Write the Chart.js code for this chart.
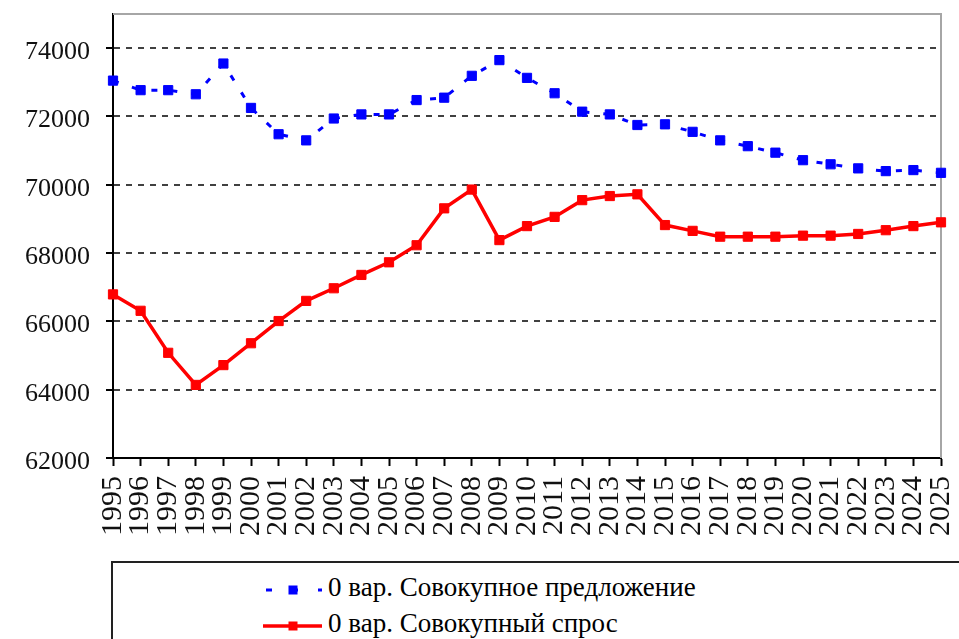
<!DOCTYPE html>
<html>
<head>
<meta charset="utf-8">
<script src="https://cdn.jsdelivr.net/npm/chart.js@4.4.1/dist/chart.umd.min.js"></script>
<style>
    html, body { margin: 0; padding: 0; background: #fff; overflow: hidden; }
    #wrap { position: relative; width: 959px; height: 639px; }
    #legend {
        position: absolute; left: 111px; top: 561px; width: 900px; height: 100px;
        border: 2px solid #222; background: #fff;
        font-family: 'Liberation Serif', serif; font-size: 27px; color: #000;
    }
    .item { position: absolute; left: 150px; height: 34px; line-height: 34px; white-space: nowrap; }
    .item svg { vertical-align: middle; margin-right: 6px; }
</style>
</head>
<body>
<div id="wrap">
    <canvas id="chart" width="959" height="639"></canvas>
    <div id="legend"></div>
</div>
<script>
let years = ['1995', '1996', '1997', '1998', '1999', '2000', '2001', '2002', '2003', '2004',
    '2005', '2006', '2007', '2008', '2009', '2010', '2011', '2012', '2013', '2014',
    '2015', '2016', '2017', '2018', '2019', '2020', '2021', '2022', '2023', '2024', '2025']

// 0 вар. Совокупное предложение
let supply = [73050, 72770, 72770, 72650, 73550, 72250, 71480, 71300, 71940, 72060,
    72060, 72480, 72550, 73190, 73650, 73130, 72680, 72140, 72060, 71750,
    71770, 71550, 71300, 71130, 70940, 70720, 70600, 70480, 70400, 70430, 70350]

// 0 вар. Совокупный спрос
let demand = [66790, 66310, 65080, 64140, 64720, 65360, 66010, 66600, 66970, 67360,
    67730, 68230, 69310, 69860, 68380, 68790, 69060, 69550, 69670, 69720,
    68820, 68650, 68480, 68480, 68480, 68510, 68510, 68560, 68670, 68790, 68900]

let yTicks = [62000, 64000, 66000, 68000, 70000, 72000, 74000]
let yMin = 62000,
    yMax = 75000

let serif = "'Liberation Serif', serif"

// grey frame on top and right of plot area
const plotBorder = {
    id: 'plotBorder',
    beforeDatasetsDraw(chart) {
        let ctx = chart.ctx
        let a = chart.chartArea
        ctx.save()
        ctx.strokeStyle = '#a6a6a6'
        ctx.lineWidth = 2
        ctx.beginPath()
        ctx.moveTo(a.left, a.top)
        ctx.lineTo(a.right, a.top)
        ctx.lineTo(a.right, a.bottom)
        ctx.stroke()
        ctx.restore()
    }
}

let chart = new Chart(document.getElementById('chart'), {
    type: 'line',
    data: {
        labels: years,
        datasets: [{
            label: '0 вар. Совокупное предложение',
            data: supply,
            borderColor: '#0000ff',
            backgroundColor: '#0000ff',
            borderWidth: 3,
            borderDash: [6, 14],
            pointStyle: 'rect',
            pointRadius: 6.5,
            pointBorderWidth: 1,
            tension: 0
        }, {
            label: '0 вар. Совокупный спрос',
            data: demand,
            borderColor: '#ff0000',
            backgroundColor: '#ff0000',
            borderWidth: 3.5,
            pointStyle: 'rect',
            pointRadius: 6.5,
            pointBorderWidth: 1,
            tension: 0
        }]
    },
    options: {
        responsive: false,
        animation: false,
        layout: {
            padding: { top: 14, right: 18, bottom: 81, left: 0 }
        },
        plugins: {
            legend: { display: false },
            tooltip: { enabled: false }
        },
        scales: {
            x: {
                grid: { drawOnChartArea: false, tickLength: 8, tickColor: '#000', tickWidth: 2 },
                border: { color: '#000', width: 2 },
                ticks: {
                    autoSkip: false,
                    maxRotation: 90,
                    minRotation: 90,
                    padding: 10,
                    color: '#111',
                    font: { family: serif, size: 30 }
                },
                afterFit: function(s) {
                    s.height = 100
                    s.paddingLeft = 0
                    s.paddingRight = 0
                }
            },
            y: {
                min: yMin,
                max: yMax,
                afterBuildTicks: function(s) {
                    s.ticks = yTicks.map(v => ({ value: v }))
                },
                grid: {
                    color: '#404040',
                    lineWidth: 2,
                    tickLength: 7,
                    tickColor: '#000',
                    tickWidth: 2,
                    tickBorderDash: [1, 0]
                },
                border: { color: '#000', width: 2, dash: [6, 6] },
                ticks: {
                    padding: 16,
                    labelOffset: 4,
                    color: '#111',
                    font: { family: serif, size: 26 },
                    callback: function(v) { return v }
                },
                afterFit: function(s) {
                    s.width = 113
                    s.paddingTop = 0
                    s.paddingBottom = 0
                }
            }
        }
    },
    plugins: [plotBorder]
})

// legend below the chart, taken from the datasets
let append = ''
chart.data.datasets.forEach(function(ds, i) {
    let top = 7 + i * 36
    let dash = ds.borderDash ? `stroke-dasharray="6 20"` : ''
    let x1 = ds.borderDash ? 3 : 0
    append += `
        <div class="item" style="top:${top}px">
            <svg width="59" height="20" viewBox="0 0 59 20">
                <line x1="${x1}" y1="10" x2="59" y2="10" stroke="${ds.borderColor}" stroke-width="${ds.borderWidth}" ${dash}/>
                <rect x="25.5" y="5.5" width="9" height="9" fill="${ds.backgroundColor}"/>
            </svg>${ds.label}
        </div>
    `
})
document.getElementById('legend').innerHTML = append
</script>
</body>
</html>
